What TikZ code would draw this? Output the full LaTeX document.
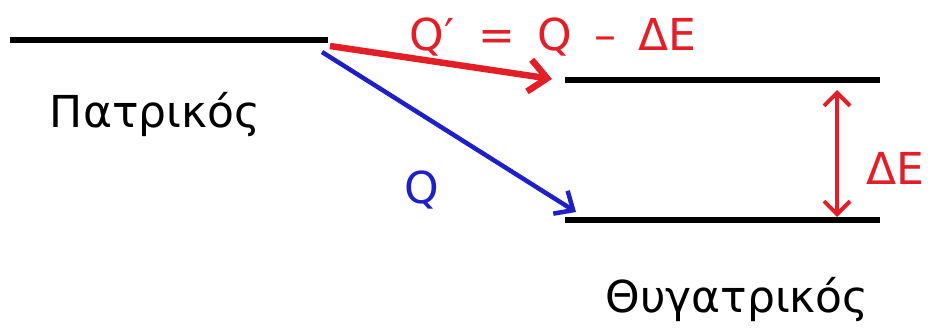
\documentclass[tikz,border=0pt]{standalone}
\usepackage{fontspec}
\setmainfont{DejaVu Sans}
\usetikzlibrary{arrows.meta}
\definecolor{decred}{HTML}{E41E26}
\definecolor{decblue}{HTML}{1F1FC8}
\tikzset{
  level/.style={line width=6.5pt, draw=black},
  redtrans/.style={-{Straight Barb[length=18pt, width=32pt, line width=6.5pt]}, line width=6.5pt, draw=decred},
  bluetrans/.style={-{Straight Barb[length=15pt, width=27pt, line width=4.5pt]}, line width=4.5pt, draw=decblue},
  gap/.style={{Straight Barb[length=13pt, width=26pt, line width=4pt]}-{Straight Barb[length=13pt, width=26pt, line width=4pt]}, line width=4pt, draw=decred},
  txt/.style={font=\fontsize{44}{50}\selectfont, inner sep=0pt},
}

\begin{document}
\begin{tikzpicture}[x=1pt, y=-1pt]
\useasboundingbox (0,0) rectangle (938,327);
% energy levels
\coordinate (P1) at (10,40);
\coordinate (P2) at (328,40);
\coordinate (U1) at (565,80);
\coordinate (U2) at (880,80);
\coordinate (L1) at (565,220);
\coordinate (L2) at (880,220);
\draw[level] (P1) -- (P2);
\draw[level] (U1) -- (U2);
\draw[level] (L1) -- (L2);

% transitions
\coordinate (Pr) at (330,46);
\coordinate (Ur) at (552,79);
\coordinate (Pb) at (322,52);
\coordinate (Lb) at (576,212);
\draw[redtrans] (Pr) -- (Ur);
\draw[bluetrans] (Pb) -- (Lb);

% level gap
\coordinate (dEt) at (837,90);
\coordinate (dEb) at (837,217);
\draw[gap] (dEt) -- (dEb);

% labels
\node[txt, text=decred] (qprime) at (553,37) {Q′\hspace{24pt}=\hspace{22pt}Q\hspace{22pt}–\hspace{22pt}ΔE};
\node[txt, text=decblue] (q) at (422,190) {Q};
\node[txt, text=decred, anchor=west] (dE) at (866,168) {ΔE};
\node[txt] (parent) at (155,115) {Πατρικός};
\node[txt] (daughter) at (737,300) {Θυγατρικός};
\end{tikzpicture}
\end{document}
